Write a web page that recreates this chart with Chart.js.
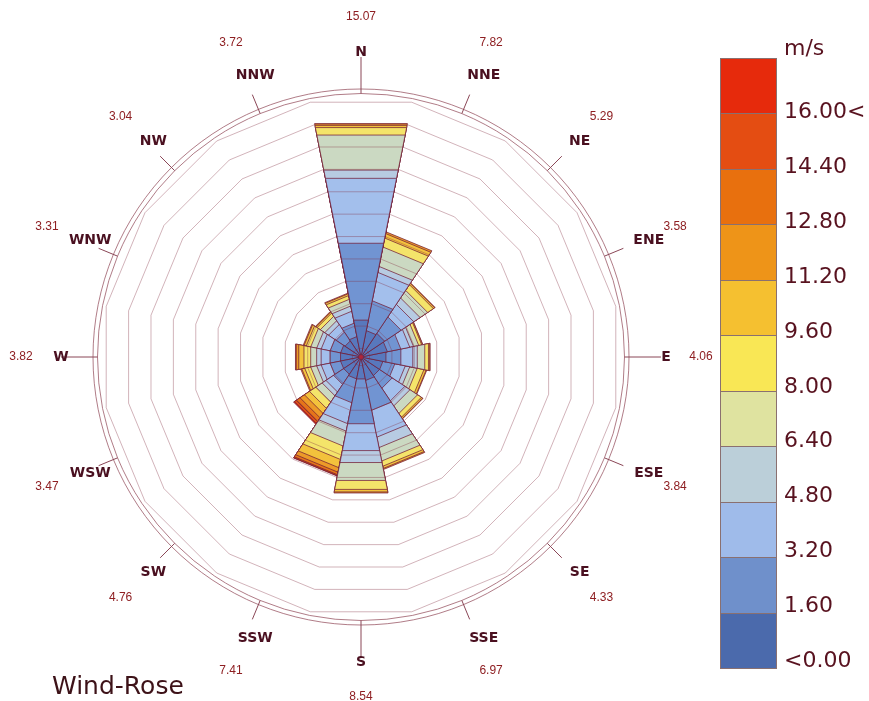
<!DOCTYPE html>
<html>
<head>
<meta charset="utf-8">
<title>Wind-Rose</title>
<script src="https://cdn.jsdelivr.net/npm/chart.js@4.4.1/dist/chart.umd.min.js"></script>
<style>
  body { margin: 0; background: #fff; }
  #wrap { position: relative; width: 869px; height: 701px; overflow: hidden; }
  #rose { position: absolute; left: 0; top: 0; }
  #bar { position: absolute; left: 720px; top: 58px; width: 56px; height: 610px; }
  #bar div { position: absolute; left: 0; width: 55px; border: 1px solid #8a7070; border-bottom: none; }
  #bar div:last-child { border-bottom: 1px solid #8a7070; }
  .lab { position: absolute; left: 784px; font: 22px "DejaVu Sans", Verdana, sans-serif; color: #58121f; line-height: 1; white-space: nowrap; }
  #title { position: absolute; left: 52px; top: 673px; font: 25px "DejaVu Sans", Verdana, sans-serif; color: #3d1218; line-height: 1; }
</style>
</head>
<body>
<div id="wrap">
  <canvas id="rose" width="869" height="701"></canvas>
  <div id="bar"></div>
  <div id="title">Wind-Rose</div>
</div>
<script>
const directions = ['N', 'NNE', 'NE', 'ENE', 'E', 'ESE', 'SE', 'SSE', 'S', 'SSW', 'SW', 'WSW', 'W', 'WNW', 'NW', 'NNW'];
const totals = [15.07, 7.82, 5.29, 3.58, 4.06, 3.84, 4.33, 6.97, 8.54, 7.41, 4.76, 3.47, 3.82, 3.31, 3.04, 3.72];

// colour classes, bottom of the bar first
const speedLabels = ['<0.00', '1.60', '3.20', '4.80', '6.40', '8.00', '9.60', '11.20', '12.80', '14.40', '16.00<'];
const speedColors = ['#4b6aac', '#6f90cb', '#9fbbea', '#bbcfd9', '#dfe3a0', '#f9e755', '#f5c030', '#ee9418', '#e8700e', '#e44d12', '#e62a0c'];
// the rose itself looks a little greyer than the bar
const wedgeColors = ['#5878bd', '#7194d2', '#a3bfec', '#b7cbe2', '#cbd9c2', '#f4e46a', '#f3c23c', '#ec9a28', '#e5741a', '#e04f16', '#e02c10'];

// frequency (%) of each speed class per direction, N .. NNW
const s000 = [1.90, 1.20, 1.30, 1.20, 1.10, 0.90, 0.90, 1.00, 0.90, 0.90, 0.80, 0.80, 0.80, 0.80, 0.70, 0.80];
const s160 = [5.15, 2.00, 1.30, 0.90, 1.00, 0.80, 1.00, 2.00, 3.00, 1.60, 0.80, 0.70, 0.70, 0.70, 0.70, 0.90];
const s320 = [4.35, 1.90, 1.00, 0.60, 0.80, 0.70, 1.00, 1.80, 1.80, 1.40, 0.60, 0.60, 0.60, 0.60, 0.60, 0.80];
const s480 = [0.55, 0.40, 0.50, 0.25, 0.30, 0.30, 0.40, 0.70, 0.80, 0.50, 0.30, 0.30, 0.30, 0.30, 0.30, 0.35];
const s640 = [2.35, 1.30, 0.60, 0.35, 0.50, 0.50, 0.60, 0.90, 1.20, 1.00, 0.50, 0.40, 0.40, 0.40, 0.35, 0.45];
const s800 = [0.50, 0.60, 0.45, 0.20, 0.25, 0.45, 0.30, 0.35, 0.60, 0.90, 0.50, 0.40, 0.45, 0.30, 0.25, 0.25];
const s960 = [0.15, 0.30, 0.10, 0.06, 0.08, 0.15, 0.10, 0.15, 0.17, 0.55, 0.40, 0.20, 0.35, 0.15, 0.10, 0.12];
const s1120 = [0.12, 0.12, 0.04, 0.02, 0.03, 0.04, 0.03, 0.07, 0.07, 0.30, 0.35, 0.07, 0.17, 0.06, 0.04, 0.05];
const s1280 = [0, 0, 0, 0, 0, 0, 0, 0, 0, 0.17, 0.30, 0, 0.05, 0, 0, 0];
const s1440 = [0, 0, 0, 0, 0, 0, 0, 0, 0, 0.07, 0.15, 0, 0, 0, 0, 0];
const s1600 = [0, 0, 0, 0, 0, 0, 0, 0, 0, 0.02, 0.06, 0, 0, 0, 0, 0];
const speedSeries = [s000, s160, s320, s480, s640, s800, s960, s1120, s1280, s1440, s1600];

const ringStep = 1.5;   // % between grid rings
const ringLast = 16.5;
const rMin = -0.57;     // leaves the small calm ring in the middle
const rMax = 17.04;

// colour bar
const bar = document.getElementById('bar');
const boxH = 610 / speedColors.length;
for (let i = speedColors.length - 1; i >= 0; i--) {
  const d = document.createElement('div');
  d.style.top = ((speedColors.length - 1 - i) * boxH) + 'px';
  d.style.height = (boxH - 1) + 'px';
  d.style.background = speedColors[i];
  bar.appendChild(d);
}
const wrap = document.getElementById('wrap');
const unit = document.createElement('div');
unit.className = 'lab';
unit.style.top = '37px';
unit.textContent = 'm/s';
wrap.appendChild(unit);
speedLabels.forEach((t, i) => {
  const el = document.createElement('div');
  el.className = 'lab';
  el.style.top = (660 - i * 54.9 - 11) + 'px';
  el.textContent = t;
  wrap.appendChild(el);
});

// one filled wedge per direction and cumulative class; inner classes drawn last
const n = directions.length;
const datasets = [];
speedSeries.forEach((ser, b) => {
  for (let k = 0; k < n; k++) {
    if (!ser[k]) continue;
    let cum = 0;
    for (let j = 0; j <= b; j++) cum += speedSeries[j][k];
    const data = new Array(n).fill(rMin);
    data[k] = cum;
    data[(k + 1) % n] = cum;
    datasets.push({
      data: data,
      backgroundColor: wedgeColors[b],
      borderColor: 'rgba(115,30,55,0.75)',
      borderWidth: 1,
      fill: 'start',
      pointRadius: 0,
      pointHoverRadius: 0,
      tension: 0
    });
  }
});

const gridColor = 'rgba(130,45,65,0.36)';
const isRing = (v) => v > -1e-6 && v < ringLast + 1e-6 && Math.abs(v / ringStep - Math.round(v / ringStep)) < 1e-6;

const roseDecor = {
  id: 'roseDecor',
  afterDraw(chart) {
    const s = chart.scales.r;
    const ctx = chart.ctx;
    const cx = s.xCenter, cy = s.yCenter, R = s.drawingArea;
    ctx.save();
    // outer double circle
    ctx.strokeStyle = 'rgba(150,80,95,0.75)';
    ctx.lineWidth = 1;
    [R - 4.5, R].forEach(r => {
      ctx.beginPath();
      ctx.arc(cx, cy, r, 0, Math.PI * 2);
      ctx.stroke();
    });
    // direction ticks and labels
    directions.forEach((d, k) => {
      const idx = k + 0.5;
      const len = (k % 4 === 0) ? 32 : 16;
      const a = s.getPointPosition(idx, R - 4.5);
      const b = s.getPointPosition(idx, R + len);
      ctx.strokeStyle = '#8a4656';
      ctx.beginPath();
      ctx.moveTo(a.x, a.y);
      ctx.lineTo(b.x, b.y);
      ctx.stroke();

      const p = s.getPointPosition(idx, R + 37);
      const shift = 3 * (d.length - 1) + (p.x < cx - 1 ? 5 : 0);
      ctx.fillStyle = '#4a1020';
      ctx.font = 'bold 14px "DejaVu Sans", Verdana, sans-serif';
      ctx.textAlign = 'center';
      ctx.textBaseline = 'middle';
      ctx.fillText(d, p.x + shift, p.y);

      const q = s.getPointPosition(idx, R + 72);
      ctx.fillStyle = '#8e1f22';
      ctx.font = '12px "Liberation Sans", Arial, sans-serif';
      ctx.fillText(totals[k].toFixed(2), q.x, q.y);
    });
    // calm dot
    ctx.fillStyle = '#b0243a';
    ctx.beginPath();
    ctx.arc(cx, cy, 2, 0, Math.PI * 2);
    ctx.fill();
    ctx.restore();
  }
};

new Chart(document.getElementById('rose'), {
  type: 'radar',
  data: { labels: directions.map(() => ''), datasets: datasets },
  options: {
    responsive: false,
    animation: false,
    devicePixelRatio: 1,
    layout: { padding: { left: 93, right: 240, top: 89, bottom: 76 } },
    plugins: { legend: { display: false }, tooltip: { enabled: false } },
    elements: { line: { borderJoinStyle: 'miter' } },
    scales: {
      r: {
        min: rMin,
        max: rMax,
        startAngle: -11.25,
        ticks: { display: false, stepSize: ringStep },
        pointLabels: { display: false },
        angleLines: { display: false },
        grid: {
          z: 1,
          circular: false,
          lineWidth: 1,
          color: (c) => (c.tick && isRing(c.tick.value)) ? gridColor : 'rgba(0,0,0,0)'
        }
      }
    }
  },
  plugins: [roseDecor]
});
</script>
</body>
</html>
